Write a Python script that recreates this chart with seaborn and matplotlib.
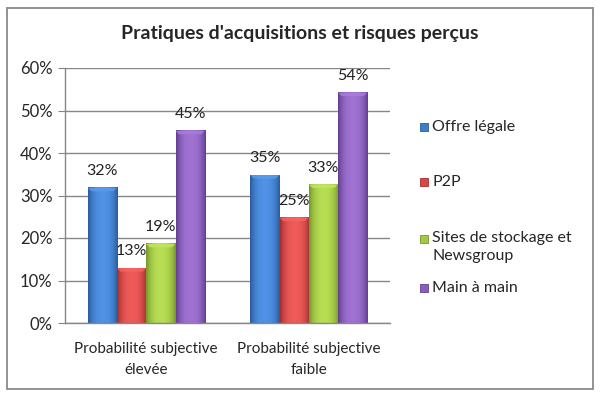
import numpy as np
import pandas as pd
import matplotlib
matplotlib.use("Agg")
import matplotlib.pyplot as plt
from matplotlib.patches import Rectangle, Polygon
from matplotlib.colors import to_rgb
import seaborn as sns

# données
categories = ["Probabilité subjective\nélevée", "Probabilité subjective\nfaible"]
series = ["Offre légale", "P2P", "Sites de stockage et\nNewsgroup", "Main à main"]
offre_legale = [0.318, 0.348]
p2p = [0.129, 0.248]
sites_stockage = [0.186, 0.326]
main_a_main = [0.452, 0.542]

couleurs = ["#3B7DD0", "#D94644", "#A3C940", "#8B5EBE"]
bords = ["#2A5C9E", "#A2302E", "#77982A", "#62408F"]

valeurs = [offre_legale, p2p, sites_stockage, main_a_main]
df = pd.DataFrame({
    "categorie": [c for s in series for c in categories],
    "serie": [s for s in series for c in categories],
    "valeur": [v for vals in valeurs for v in vals],
})

sns.set_style("white")
plt.rcParams["font.family"] = ["Lato", "DejaVu Sans"]

fig = plt.figure(figsize=(6, 3.97), dpi=100)
ax = fig.add_axes([65 / 600, 1 - 323 / 397, 325 / 600, 255 / 397])

sns.barplot(data=df, x="categorie", y="valeur", hue="serie", hue_order=series,
            palette=couleurs, saturation=1, width=0.72, legend=False, ax=ax,
            edgecolor="none", linewidth=0)

# dégradé façon Excel 2007 sur chaque barre
for i, cont in enumerate(ax.containers):
    base = np.array(to_rgb(couleurs[i]))
    sombre = np.array(to_rgb(bords[i]))
    t = np.linspace(-1, 1, 40)
    poids = np.abs(t) ** 2.5
    clair = np.clip(base + 0.08, 0, 1)
    grad = (1 - poids)[:, None] * clair + poids[:, None] * sombre
    for p in cont.patches:
        x, y = p.get_x(), p.get_y()
        w, h = p.get_width(), p.get_height()
        ax.imshow(grad[None, :, :], extent=(x, x + w, y, y + h), aspect="auto",
                  zorder=p.get_zorder() + 0.1, interpolation="bilinear")
        # petit biseau clair en haut
        d = 0.008
        ax.add_patch(Polygon([(x, y + h), (x + w, y + h), (x + w - w * 0.12, y + h - d),
                              (x + w * 0.12, y + h - d)], closed=True,
                             facecolor=np.clip(base + 0.12, 0, 1), edgecolor="none",
                             alpha=0.8, zorder=p.get_zorder() + 0.2))
    ax.bar_label(cont, labels=[f"{v * 100:.0f}%" for v in cont.datavalues],
                 padding=7, fontsize=11.5, color="#222222")

ax.set_xlim(-0.5, 1.5)
ax.set_ylim(0, 0.6)
ax.set_yticks(np.arange(0, 0.61, 0.1))
ax.set_yticklabels([f"{v}%" for v in range(0, 61, 10)], fontsize=12)
ax.set_xticks([0, 1])
ax.set_xticklabels(categories, fontsize=11, linespacing=1.6)
ax.set_xticks([-0.5, 0.5, 1.5], minor=True)
ax.tick_params(axis="x", which="major", length=0, pad=14)
ax.tick_params(axis="x", which="minor", length=5, color="#868686", direction="out")
ax.tick_params(axis="y", length=5, color="#868686", direction="out", pad=4, left=True)
ax.set_xlabel("")
ax.set_ylabel("")
ax.yaxis.grid(True, color="#868686", linewidth=1)
ax.set_axisbelow(True)
for s in ["top", "right"]:
    ax.spines[s].set_visible(False)
for s in ["left", "bottom"]:
    ax.spines[s].set_color("#868686")
    ax.spines[s].set_linewidth(1)

fig.text(0.5, 1 - 33 / 397, "Pratiques d'acquisitions et risques perçus",
         ha="center", va="center", fontsize=14, fontweight="bold")

# légende placée comme dans Excel
legende_y = [127, 182, 247, 288]
for nom, c, b, yy in zip(series, couleurs, bords, legende_y):
    y_sq = 1 - (yy + 4) / 397 if "\n" not in nom else 1 - (yy - 8 + 4) / 397
    fig.add_artist(Rectangle((420 / 600, y_sq), 8 / 600, 8 / 397, transform=fig.transFigure,
                             facecolor=c, edgecolor=b, linewidth=0.6))
    fig.text(432 / 600, 1 - yy / 397, nom, ha="left", va="center", fontsize=11.5,
             linespacing=1.3)

fig.add_artist(Rectangle((7 / 600, 8 / 397), 586 / 600, 381 / 397, transform=fig.transFigure,
                         fill=False, edgecolor="#8a8a8a", linewidth=1.3))

fig.savefig("out.png", dpi=100)
